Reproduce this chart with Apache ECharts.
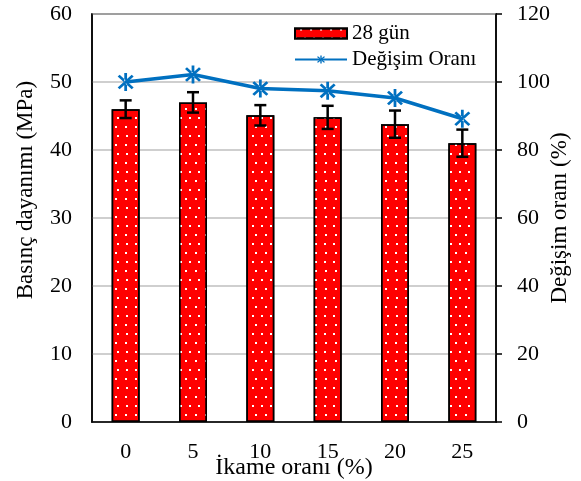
<!DOCTYPE html>
<html>
<head>
<meta charset="utf-8">
<script src="https://cdn.jsdelivr.net/npm/echarts@6/dist/echarts.min.js"></script>
<style>
  html, body { margin: 0; padding: 0; background: #fff; }
  #chart { width: 581px; height: 481px; }
</style>
</head>
<body>
<div id="chart"></div>
<script>
// veriler
const categories = ['0', '5', '10', '15', '20', '25'];
const strength28 = [46.0, 47.0, 45.1, 44.8, 43.8, 41.0];
const strengthErr = [1.3, 1.5, 1.5, 1.7, 2.0, 2.0];
const changeRatio = [100, 102.2, 98.1, 97.4, 95.3, 89.2];

const FONT = 'Liberation Serif';

// asterisk marker
const starPath = 'path://M-1.4 -10L1.4 -10L1.4 10L-1.4 10Z' +
  'M6.1 8.1L8.1 6.1L-6.1 -8.1L-8.1 -6.1Z' +
  'M-6.1 8.1L-8.1 6.1L6.1 -8.1L8.1 -6.1Z';

const errData = strength28.map((v, i) => [i, v - strengthErr[i], v + strengthErr[i]]);

let myChart = echarts.init(document.getElementById('chart'));
myChart.setOption({
  animation: false,
  textStyle: { fontFamily: FONT },
  grid: {
    left: 92, right: 85, top: 14, bottom: 59,
    outerBoundsMode: 'none',
    show: true, borderColor: '#000', borderWidth: 1.5
  },
  legend: {
    orient: 'vertical',
    left: 289, top: 18,
    itemWidth: 52, itemHeight: 10,
    itemGap: 5,
    textStyle: { fontFamily: FONT, fontSize: 21, color: '#000' },
    data: [{ name: '28 gün', icon: 'rect' }, 'Değişim Oranı']
  },
  xAxis: {
    type: 'category',
    data: categories,
    name: 'İkame oranı (%)',
    nameLocation: 'middle',
    nameGap: 34,
    nameMoveOverlap: false,
    nameTextStyle: { fontFamily: FONT, fontSize: 24, color: '#000' },
    axisLine: { lineStyle: { color: '#000', width: 1.5 } },
    axisTick: { show: false },
    axisLabel: { color: '#000', fontSize: 22, fontFamily: FONT, margin: 19 }
  },
  yAxis: [
    {
      type: 'value',
      min: 0, max: 60, interval: 10,
      name: 'Basınç dayanımı (MPa)',
      nameLocation: 'middle',
      nameGap: 55,
      nameMoveOverlap: false,
      nameTextStyle: { fontFamily: FONT, fontSize: 23, color: '#000', padding: [0, 0, 0, 56] },
      axisLine: { show: true, lineStyle: { color: '#000', width: 1.5 } },
      axisTick: { show: false },
      axisLabel: { color: '#000', fontSize: 22, fontFamily: FONT, margin: 20 },
      splitLine: { lineStyle: { color: '#bfbfbf', width: 1.5 } }
    },
    {
      type: 'value',
      min: 0, max: 120, interval: 20,
      position: 'right',
      name: 'Değişim oranı (%)',
      nameLocation: 'middle',
      nameGap: 52,
      nameMoveOverlap: false,
      nameTextStyle: { fontFamily: FONT, fontSize: 23, color: '#000' },
      axisLine: { show: true, lineStyle: { color: '#000', width: 1.5 } },
      axisTick: { show: true, length: 6, lineStyle: { color: '#000', width: 1.5 } },
      axisLabel: { color: '#000', fontSize: 22, fontFamily: FONT, margin: 21 },
      splitLine: { show: false }
    }
  ],
  series: [
    {
      name: '28 gün',
      type: 'bar',
      barWidth: 28,
      data: strength28,
      itemStyle: {
        color: '#ff0000',
        borderColor: '#000',
        borderWidth: 1.5,
        decal: {
          symbol: 'rect',
          symbolSize: 1,
          color: '#ffffff',
          backgroundColor: null,
          dashArrayX: [[2, 7], [0, 4.5, 2, 2.5]],
          dashArrayY: [2, 6.5]
        }
      }
    },
    {
      name: 'err',
      type: 'custom',
      data: errData,
      encode: { x: 0, y: [1, 2] },
      z: 5,
      renderItem: function (params, api) {
        const x = api.value(0);
        const lo = api.coord([x, api.value(1)]);
        const hi = api.coord([x, api.value(2)]);
        const cap = 6;
        const style = { stroke: '#000', lineWidth: 2.5 };
        return {
          type: 'group',
          children: [
            { type: 'line', shape: { x1: lo[0], y1: lo[1], x2: hi[0], y2: hi[1] }, style: style },
            { type: 'line', shape: { x1: lo[0] - cap, y1: lo[1], x2: lo[0] + cap, y2: lo[1] }, style: style },
            { type: 'line', shape: { x1: hi[0] - cap, y1: hi[1], x2: hi[0] + cap, y2: hi[1] }, style: style }
          ]
        };
      }
    },
    {
      name: 'Değişim Oranı',
      type: 'line',
      yAxisIndex: 1,
      data: changeRatio,
      z: 6,
      symbol: starPath,
      symbolSize: [16, 18],
      itemStyle: { color: '#0070c0' },
      lineStyle: { color: '#0070c0', width: 3.5 }
    }
  ]
});
</script>
</body>
</html>
